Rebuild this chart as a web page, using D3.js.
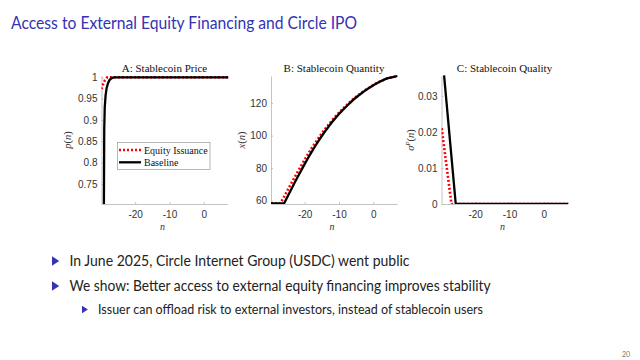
<!DOCTYPE html>
<html><head><meta charset="utf-8">
<script src="https://cdn.jsdelivr.net/npm/d3@7"></script>
<style>body{margin:0;background:#fff}svg{display:block}</style>
</head><body>
<svg id="c" width="640" height="360"></svg>
<script>
// ---------- data ----------
const slideTitle = "Access to External Equity Financing and Circle IPO";
const bulletsMain = [
  "In June 2025, Circle Internet Group (USDC) went public",
  "We show: Better access to external equity financing improves stability"
];
const bulletsSub = ["Issuer can offload risk to external investors, instead of stablecoin users"];
const pageNumber = "20";
const panelTitles = ["A: Stablecoin Price", "B: Stablecoin Quantity", "C: Stablecoin Quality"];
const seriesNames = ["Equity Issuance", "Baseline"];
const nTicks = [-20, -10, 0];
const priceTicks = [0.75, 0.8, 0.85, 0.9, 0.95, 1];
const qtyTicks = [60, 80, 100, 120];
const qualTicks = [0, 0.01, 0.02, 0.03];

// Panel A: price
const priceBaseN = [-29.1, -29.0, -28.85, -28.6, -28.3, -27.9, -27.5, -27.0, -26.5, -26.0, 7.2];
const priceBase  = [0.70, 0.88, 0.93, 0.958, 0.975, 0.986, 0.993, 0.997, 0.999, 1.0, 1.0];
const priceEqN = [-29.8, -29.3, -28.8, -28.1, 7.2];
const priceEq  = [0.972, 0.985, 0.993, 1.0, 1.0];

// Panel B: quantity
const qtyBaseN = [-29.8, -26, -25, -24, -23, -22, -21, -20, -19, -18, -17, -16, -15, -14, -13, -12, -11, -10, -9, -8, -7, -6, -5, -4, -3, -2, -1, 0, 1, 2, 3, 4, 5, 6, 7];
const qtyBase  = [58.3, 58.3, 62.5, 66.65, 70.75, 74.75, 78.65, 82.5, 86.25, 89.85, 93.3, 96.6, 99.75, 102.75, 105.6, 108.3, 110.85, 113.25, 115.5, 117.6, 119.7, 121.6, 123.4, 125.1, 126.7, 128.2, 129.6, 130.9, 132.1, 133.2, 134.2, 135.1, 135.6, 136.1, 136.6];
const qtyEqN = [-29.8, -27.1, -26, -25, -24, -23, -22, -21, -20, -19, -18, -17, -16, -15, -14, -13, -12, -11, -10, -9, -8, -7, -6, -5, -4, -3, -2, -1, 0, 1, 2, 3, 4, 5, 6, 7];
const qtyEq  = [58.3, 58.3, 62.4, 66.4, 70.3, 74.1, 77.9, 81.6, 85.2, 88.7, 92.1, 95.3, 98.4, 101.3, 104.2, 106.8, 109.4, 111.8, 114.1, 116.2, 118.3, 120.2, 122.1, 123.8, 125.4, 127.0, 128.4, 129.7, 131.0, 132.2, 133.25, 134.25, 135.1, 135.6, 136.1, 136.6];

// Panel C: quality
const qualBaseN = [-29.05, -25.65, 7.2];
const qualBase  = [0.0357, 0, 0];
const qualEqN = [-29.75, -26.9, 7.2];
const qualEq  = [0.021, 0, 0];

// ---------- drawing ----------
const svg = d3.select("#c");
const blue = "#3333B3";
const sans = "'Lato', 'Open Sans', sans-serif";
const serif = "'Liberation Serif', 'DejaVu Serif', serif";
const tickFont = "'Liberation Sans', Arial, sans-serif";

function fitText(sel, width) {
  sel.attr("textLength", width).attr("lengthAdjust", "spacingAndGlyphs");
}

const t = svg.append("text").attr("x", 11).attr("y", 29).attr("fill", blue)
  .attr("font-family", sans).attr("font-size", 17.5).text(slideTitle);
fitText(t, 346);

const panelW = 126, panelH = 128, plotTop = 76;
const lefts = [101.5, 271, 441.5];
const xDomain = [-29.8, 6.9];

const panels = [
  {yDomain: [0.703, 1.003], ticks: priceTicks,
   base: [priceBaseN, priceBase], eq: [priceEqN, priceEq], ylab: "p", sup: null, yx: 71},
  {yDomain: [58, 136.6], ticks: qtyTicks,
   base: [qtyBaseN, qtyBase], eq: [qtyEqN, qtyEq], ylab: "x", sup: null, yx: 245},
  {yDomain: [0, 0.0355], ticks: qualTicks,
   base: [qualBaseN, qualBase], eq: [qualEqN, qualEq], ylab: "σ", sup: "P", yx: 414}
];

panels.forEach((p, i) => {
  const x = d3.scaleLinear().domain(xDomain).range([lefts[i], lefts[i] + panelW]);
  const y = d3.scaleLinear().domain(p.yDomain).range([plotTop + panelH, plotTop]);
  const g = svg.append("g");
  const clipId = "clip" + i;
  svg.append("clipPath").attr("id", clipId).append("rect")
    .attr("x", lefts[i]).attr("y", plotTop - 2).attr("width", panelW + 1).attr("height", panelH + 2);

  const xa = g.append("g").attr("transform", `translate(0,${plotTop + panelH})`)
    .call(d3.axisBottom(x).tickValues(nTicks).tickSizeInner(-2).tickSizeOuter(0).tickPadding(7).tickFormat(d => String(d)));
  const ya = g.append("g").attr("transform", `translate(${lefts[i]},0)`)
    .call(d3.axisLeft(y).tickValues(p.ticks).tickSizeInner(-2).tickSizeOuter(0).tickPadding(4).tickFormat(d => String(d)));
  [xa, ya].forEach(a => {
    a.select(".domain").attr("stroke", "#b5b5b5").attr("stroke-width", 0.8);
    a.selectAll(".tick line").attr("stroke", "#b5b5b5").attr("stroke-width", 0.8);
    a.selectAll(".tick text").attr("fill", "#333").attr("font-family", tickFont).attr("font-size", 10);
  });

  svg.append("text").attr("x", lefts[i] + panelW / 2).attr("y", 72).attr("text-anchor", "middle")
    .attr("font-family", serif).attr("font-size", 11).attr("fill", "#111").text(panelTitles[i]);
  svg.append("text").attr("x", lefts[i] + panelW / 2 - 2).attr("y", 230).attr("text-anchor", "middle")
    .attr("font-family", serif).attr("font-style", "italic").attr("font-size", 10).attr("fill", "#333").text("n");
  const yl = svg.append("text").attr("transform", `translate(${p.yx},${plotTop + panelH / 2}) rotate(-90)`)
    .attr("text-anchor", "middle").attr("font-family", serif).attr("font-size", 10.5).attr("fill", "#333");
  yl.append("tspan").attr("font-style", "italic").text(p.ylab);
  if (p.sup) yl.append("tspan").attr("font-style", "italic").attr("font-size", 7).attr("dy", -4).text(p.sup);
  yl.append("tspan").attr("dy", p.sup ? 4 : 0).text("(");
  yl.append("tspan").attr("font-style", "italic").text("n");
  yl.append("tspan").text(")");

  const line = d3.line().x(d => x(d[0])).y(d => y(d[1]));
  const lg = svg.append("g").attr("clip-path", `url(#${clipId})`);
  lg.append("path").datum(p.eq[0].map((n, k) => [n, p.eq[1][k]]))
    .attr("d", line).attr("fill", "none").attr("stroke", "#ff0000").attr("stroke-width", 2.6)
    .attr("stroke-dasharray", "2,2");
  lg.append("path").datum(p.base[0].map((n, k) => [n, p.base[1][k]]))
    .attr("d", line).attr("fill", "none").attr("stroke", "#000").attr("stroke-width", 2.3);
});

// legend in panel A
const lgd = svg.append("g");
lgd.append("rect").attr("x", 117.5).attr("y", 142.5).attr("width", 92.5).attr("height", 27)
  .attr("fill", "#fff").attr("stroke", "#999").attr("stroke-width", 0.7);
[["#ff0000", "2,2"], ["#000", null]].forEach((s, k) => {
  const yy = 150 + k * 12.3;
  lgd.append("line").attr("x1", 119).attr("x2", 141).attr("y1", yy).attr("y2", yy)
    .attr("stroke", s[0]).attr("stroke-width", k ? 2.3 : 2.6).attr("stroke-dasharray", s[1]);
  lgd.append("text").attr("x", 144).attr("y", yy + 3.5).attr("font-family", serif)
    .attr("font-size", 10).attr("fill", "#111").text(seriesNames[k]);
});

// bullets
function tri(x, y, s) {
  svg.append("path").attr("d", `M${x},${y - s * 0.55} L${x + s * 0.85},${y} L${x},${y + s * 0.55} Z`).attr("fill", blue);
}
const bulletY = [266, 291];
const bulletW = [340, 421];
bulletsMain.forEach((b, k) => {
  tri(52, bulletY[k] - 5, 8.5);
  const tt = svg.append("text").attr("x", 69.5).attr("y", bulletY[k]).attr("font-family", sans)
    .attr("font-size", 14.5).attr("fill", "#222").text(b);
  fitText(tt, bulletW[k]);
});
bulletsSub.forEach(b => {
  tri(82, 309.5, 7);
  const tt = svg.append("text").attr("x", 98).attr("y", 314).attr("font-family", sans)
    .attr("font-size", 12.5).attr("fill", "#222").text(b);
  fitText(tt, 385);
});
svg.append("text").attr("x", 630).attr("y", 357).attr("text-anchor", "end").attr("font-family", sans)
  .attr("font-size", 7).attr("fill", "#777").text(pageNumber);
</script>
</body></html>
